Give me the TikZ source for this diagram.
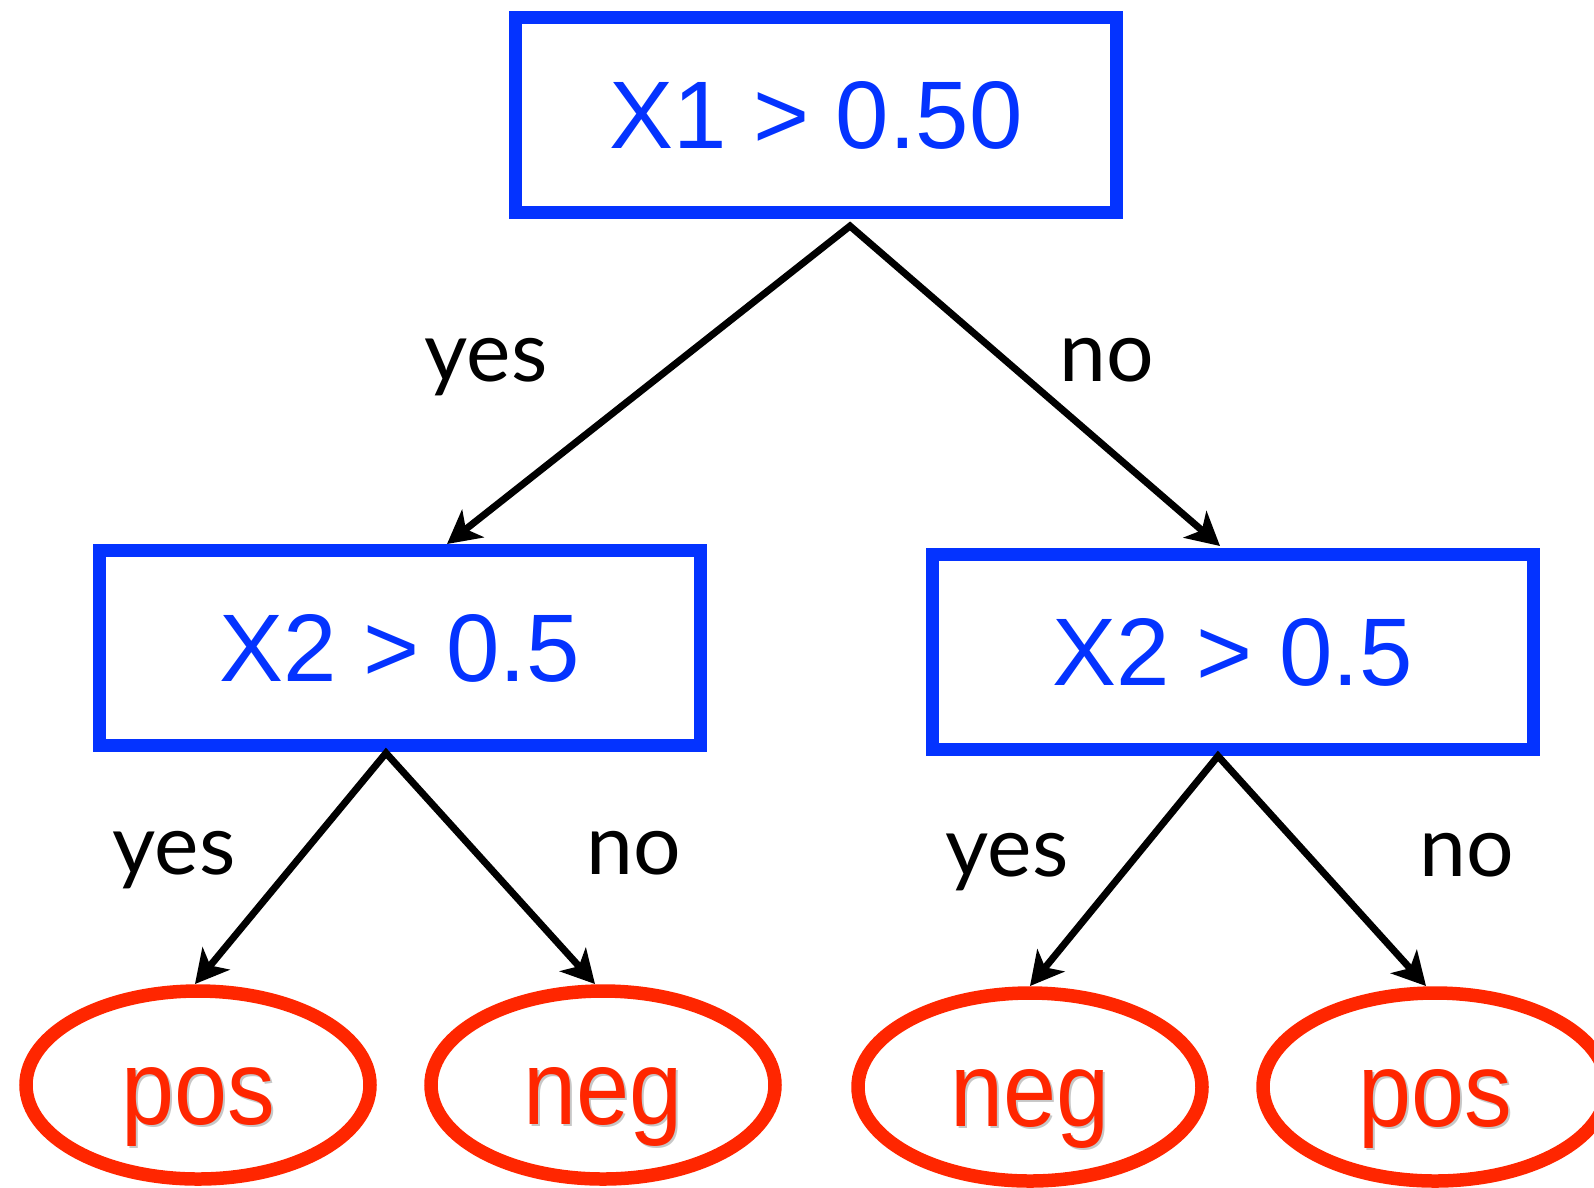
\documentclass[tikz,border=0pt]{standalone}
\usepackage{fontspec}
\usepackage{graphicx}
\setmainfont{Liberation Sans}
\newfontfamily\labelfont{Lato}
\usetikzlibrary{arrows.meta,shapes.geometric}
\definecolor{nodeblue}{RGB}{4,51,255}
\definecolor{leafred}{RGB}{255,38,0}
\newcommand\leaftext[1]{\scalebox{0.9}[1]{\rlap{\raisebox{-2.5pt}{\hspace{2.5pt}\textcolor{black!22}{#1}}}#1}}
\tikzset{
  testbox/.style={draw=nodeblue, line width=13pt, rectangle, inner sep=0pt,
    minimum width=601pt, minimum height=195pt, text=nodeblue,
    font=\fontsize{96}{96}\selectfont},
  leaf/.style={draw=leafred, line width=13.5pt, ellipse, inner sep=0pt,
    minimum width=344pt, minimum height=188pt, text=leafred,
    text height=78pt, text depth=0pt, font=\fontsize{106}{106}\selectfont},
  edgelabel/.style={anchor=base, inner sep=0pt, text=black,
    font=\labelfont\fontsize{84}{84}\selectfont},
  branch/.style={line width=7pt, black, miter limit=20,
    {Stealth[length=33pt,width=35pt,inset=9pt]}-{Stealth[length=33pt,width=35pt,inset=9pt]}}
}
\begin{document}
\begin{tikzpicture}[x=1pt,y=-1pt]
\useasboundingbox (0,0) rectangle (1594,1187);
% decision nodes
\node[testbox] (root) at (816,115) {X1 > 0.50};
\node[testbox] (left) at (399.5,648) {X2 > 0.5};
\node[testbox] (right) at (1232.5,652) {X2 > 0.5};
% leaves
\node[leaf] (l1) at (198,1085) {\leaftext{pos}};
\node[leaf] (l2) at (603,1085) {\leaftext{neg}};
\node[leaf] (l3) at (1030,1087) {\leaftext{neg}};
\node[leaf] (l4) at (1435,1087) {\leaftext{pos}};
% connector points
\coordinate (rootout) at (850,226);
\coordinate (leftin) at (447,544);
\coordinate (rightin) at (1220,546);
\coordinate (leftout) at (386,753);
\coordinate (rightout) at (1218,756);
\coordinate (l1in) at (195,984);
\coordinate (l2in) at (595,984);
\coordinate (l3in) at (1030,986);
\coordinate (l4in) at (1426,986);
% branches
\draw[branch] (leftin) -- (rootout) -- (rightin);
\draw[branch] (l1in) -- (leftout) -- (l2in);
\draw[branch] (l3in) -- (rightout) -- (l4in);
% labels
\node[edgelabel] (y1) at (486,381) {yes};
\node[edgelabel] (n1) at (1107,381) {no};
\node[edgelabel] (y2) at (174,874) {yes};
\node[edgelabel] (n2) at (634,874) {no};
\node[edgelabel] (y3) at (1007,876) {yes};
\node[edgelabel] (n3) at (1467,876) {no};
\end{tikzpicture}
\end{document}
